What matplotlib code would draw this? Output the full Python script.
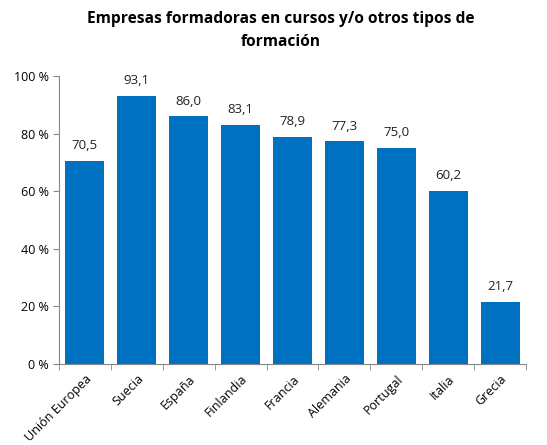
import matplotlib
matplotlib.use("Agg")
import matplotlib.pyplot as plt
import numpy as np

categories = ["Unión Europea", "Suecia", "España", "Finlandia", "Francia",
              "Alemania", "Portugal", "Italia", "Grecia"]
values = [70.5, 93.1, 86.0, 83.1, 78.9, 77.3, 75.0, 60.2, 21.7]
yticks = [0, 20, 40, 60, 80, 100]
ytick_labels = ["0 %", "20 %", "40 %", "60 %", "80 %", "100 %"]
title = "Empresas formadoras en cursos y/o otros tipos de\nformación"

plt.rcParams['font.family'] = ['Open Sans', 'DejaVu Sans']

fig = plt.figure(figsize=(5.47, 4.45), dpi=100)
ax = fig.add_axes([59/547, 81/445, (526-59)/547, (364-76)/445])

x = np.arange(len(categories))
ax.bar(x, values, width=0.75, color="#0070C0", zorder=2)
for xi, v in zip(x, values):
    ax.text(xi, v + 3, f"{v:.1f}".replace(".", ","), ha="center", va="bottom",
            fontsize=9.5, color="#222222")

ax.set_xlim(-0.5, len(categories) - 0.5)
ax.set_ylim(0, 100)
ax.set_yticks(yticks)
ax.set_yticklabels(ytick_labels, fontsize=9)
ax.set_xticks(x)
ax.set_xticklabels(categories, rotation=45, ha="right", rotation_mode="anchor", fontsize=9)
ax.set_xticks(np.arange(len(categories) + 1) - 0.5, minor=True)
ax.tick_params(axis="x", which="major", length=0, pad=6)
ax.tick_params(axis="x", which="minor", length=4, color="#888888")
ax.tick_params(axis="y", length=4, color="#888888")

for s in ["top", "right"]:
    ax.spines[s].set_visible(False)
for s in ["left", "bottom"]:
    ax.spines[s].set_color("#888888")

fig.text(281/547, 1 - 11/445, title, ha="center", va="top", fontsize=11.2,
         fontweight="bold", linespacing=1.55)

fig.savefig("out.png", dpi=100)
